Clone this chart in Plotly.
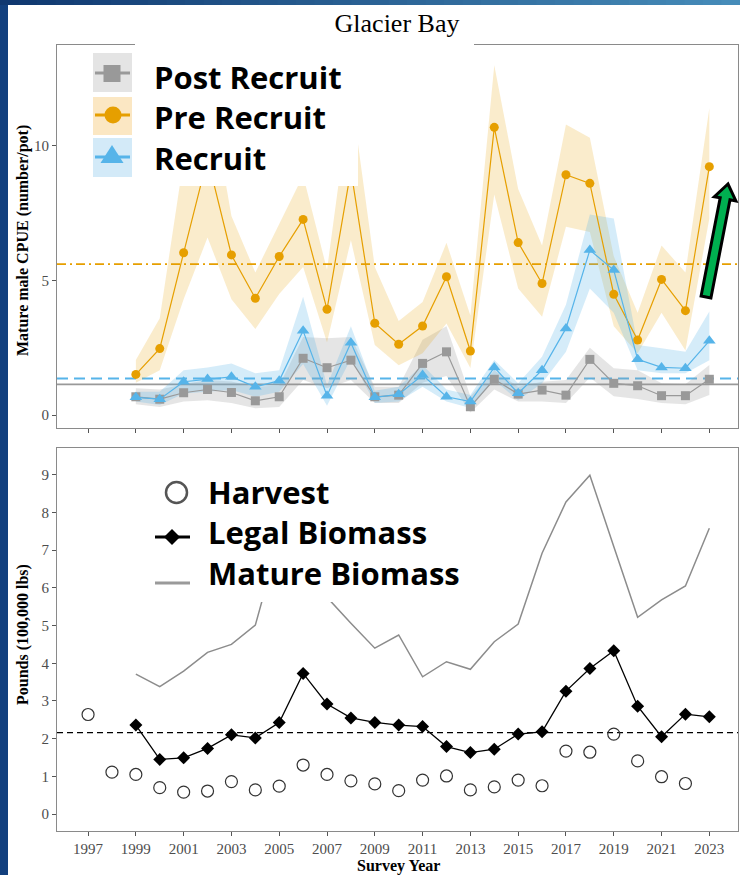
import plotly.graph_objects as go

# ---------------- data ----------------
years = list(range(1999, 2024))
harvest_years = list(range(1997, 2023))

post_recruit = [0.68, 0.59, 0.83, 0.95, 0.84, 0.53, 0.68, 2.11, 1.76, 2.04, 0.68, 0.74, 1.92,
                2.35, 0.31, 1.33, 0.78, 0.93, 0.74, 2.07, 1.18, 1.09, 0.72, 0.72, 1.33]
post_hi = [1.0, 0.95, 1.15, 1.3, 1.25, 1.05, 1.1, 2.9, 2.85, 2.9, 1.05, 1.05, 2.8,
           3.3, 0.7, 1.67, 1.05, 1.24, 1.3, 2.5, 1.74, 1.67, 1.18, 1.15, 1.86]
post_lo = [0.4, 0.3, 0.5, 0.55, 0.45, 0.25, 0.3, 1.3, 1.0, 1.3, 0.45, 0.45, 1.2,
           1.45, 0.1, 0.95, 0.5, 0.5, 0.45, 1.4, 0.7, 0.6, 0.45, 0.4, 0.75]

pre_recruit = [1.51, 2.47, 6.03, 9.55, 5.95, 4.34, 5.89, 7.27, 3.93, 9.1, 3.41, 2.63, 3.31,
               5.14, 2.38, 10.69, 6.41, 4.89, 8.93, 8.61, 4.49, 2.79, 5.04, 3.88, 9.23]
pre_hi = [2.05, 3.6, 9.5, 12.5, 7.4, 5.3, 7.1, 8.9, 5.4, 12.0, 5.5, 3.5, 4.2,
          6.4, 3.7, 13.0, 8.4, 6.3, 10.8, 10.3, 5.9, 3.8, 6.3, 5.3, 11.4]
pre_lo = [1.2, 1.67, 4.3, 6.6, 4.3, 3.2, 4.5, 5.5, 2.7, 6.5, 2.6, 1.85, 2.3,
          3.4, 1.75, 8.2, 4.7, 3.65, 7.0, 6.8, 3.3, 2.3, 3.8, 2.4, 7.3]

recruit = [0.66, 0.59, 1.24, 1.34, 1.42, 1.05, 1.28, 3.13, 0.72, 2.69, 0.66, 0.77, 1.49,
           0.68, 0.5, 1.77, 0.81, 1.67, 3.22, 6.13, 5.39, 2.07, 1.77, 1.74, 2.76]
rec_hi = [0.87, 0.87, 1.67, 1.77, 1.92, 1.55, 1.67, 4.4, 1.1, 3.3, 0.9, 1.05, 1.86,
          0.95, 0.75, 2.05, 1.18, 2.17, 4.1, 7.45, 7.3, 2.6, 2.48, 2.35, 3.85]
rec_lo = [0.5, 0.37, 0.8, 0.87, 0.93, 0.68, 0.87, 1.9, 0.35, 2.1, 0.45, 0.5, 1.05,
          0.5, 0.26, 1.3, 0.55, 1.18, 2.35, 4.7, 3.8, 1.67, 1.55, 1.55, 2.04]

pre_mean = 5.61
rec_mean = 1.36
post_mean = 1.14

harvest = [2.64, 1.11, 1.05, 0.70, 0.58, 0.61, 0.86, 0.64, 0.74, 1.30, 1.05, 0.88, 0.80,
           0.62, 0.90, 1.01, 0.64, 0.72, 0.90, 0.75, 1.67, 1.64, 2.12, 1.41, 0.99, 0.81]
legal_biomass = [2.36, 1.45, 1.49, 1.74, 2.10, 2.02, 2.43, 3.73, 2.92, 2.55, 2.43, 2.36, 2.32,
                 1.79, 1.63, 1.72, 2.12, 2.18, 3.26, 3.86, 4.33, 2.86, 2.05, 2.65, 2.58]
mature_biomass = [3.71, 3.38, 3.79, 4.29, 4.50, 5.01, 7.3, 7.9, 5.75, 5.06, 4.40, 4.75, 3.64,
                  4.04, 3.84, 4.57, 5.04, 6.92, 8.28, 8.99, 7.1, 5.22, 5.68, 6.05, 7.58]
legal_mean = 2.16

xtick_vals = list(range(1997, 2024, 2))
top_yticks = [0, 5, 10]
bottom_yticks = list(range(0, 10))

top_legend_labels = ["Post Recruit", "Pre Recruit", "Recruit"]
bottom_legend_labels = ["Harvest", "Legal Biomass", "Mature Biomass"]

# ---------------- styling ----------------
W, H = 740, 875
ML, MR, MT, MB = 57, 2, 45, 44
PW, PH = W - ML - MR, H - MT - MB


def px(x):
    return (x - ML) / PW


def py(y):
    return (H - MB - y) / PH


GRAY, ORANGE, BLUE = "#999999", "#E69F00", "#56B4E9"
SERIF = "Liberation Serif"
LEGFONT = dict(family="Open Sans", size=31, color="black", weight="bold")

fig = go.Figure()


def band(x, lo, hi, color, name):
    fig.add_trace(go.Scatter(x=x + x[::-1], y=hi + lo[::-1], fill="toself",
                             fillcolor=color, line=dict(width=0), mode="lines",
                             hoverinfo="skip", showlegend=False, name=name,
                             xaxis="x", yaxis="y"))


band(years, post_lo, post_hi, "rgba(153,153,153,0.25)", "Post Recruit band")
band(years, pre_lo, pre_hi, "rgba(230,159,0,0.2)", "Pre Recruit band")
band(years, rec_lo, rec_hi, "rgba(86,180,233,0.25)", "Recruit band")

fig.add_trace(go.Scatter(x=years, y=post_recruit, mode="lines+markers", name="Post Recruit",
                         line=dict(color=GRAY, width=1.2),
                         marker=dict(symbol="square", size=9, color=GRAY),
                         showlegend=False, xaxis="x", yaxis="y"))
fig.add_trace(go.Scatter(x=years, y=pre_recruit, mode="lines+markers", name="Pre Recruit",
                         line=dict(color=ORANGE, width=1.2),
                         marker=dict(symbol="circle", size=9, color=ORANGE),
                         showlegend=False, xaxis="x", yaxis="y"))
fig.add_trace(go.Scatter(x=years, y=recruit, mode="lines+markers", name="Recruit",
                         line=dict(color=BLUE, width=1.2),
                         marker=dict(symbol="triangle-up", size=11, color=BLUE),
                         showlegend=False, xaxis="x", yaxis="y"))

# bottom panel
fig.add_trace(go.Scatter(x=years, y=mature_biomass, mode="lines", name="Mature Biomass",
                         line=dict(color="#8c8c8c", width=1.5),
                         showlegend=False, xaxis="x2", yaxis="y2"))
fig.add_trace(go.Scatter(x=years, y=legal_biomass, mode="lines+markers", name="Legal Biomass",
                         line=dict(color="black", width=1.3),
                         marker=dict(symbol="diamond", size=10, color="black"),
                         showlegend=False, xaxis="x2", yaxis="y2"))
fig.add_trace(go.Scatter(x=harvest_years, y=harvest, mode="markers", name="Harvest",
                         marker=dict(symbol="circle-open", size=12, color="#333333",
                                     line=dict(width=1.2)),
                         showlegend=False, xaxis="x2", yaxis="y2"))

shapes = []
# reference lines
shapes.append(dict(type="line", xref="x domain", yref="y", x0=0, x1=1, y0=post_mean, y1=post_mean,
                   line=dict(color=GRAY, width=1.6), layer="below"))
shapes.append(dict(type="line", xref="x domain", yref="y", x0=0, x1=1, y0=rec_mean, y1=rec_mean,
                   line=dict(color=BLUE, width=2, dash="11px,6px"), layer="below"))
shapes.append(dict(type="line", xref="x domain", yref="y", x0=0, x1=1, y0=pre_mean, y1=pre_mean,
                   line=dict(color=ORANGE, width=1.8, dash="9px,4px,2px,4px"), layer="below"))
shapes.append(dict(type="line", xref="x2 domain", yref="y2", x0=0, x1=1, y0=legal_mean, y1=legal_mean,
                   line=dict(color="black", width=1.4, dash="6px,4px"), layer="below"))


def rect(x0, y0, x1, y1, color):
    shapes.append(dict(type="rect", xref="paper", yref="paper", x0=px(x0), x1=px(x1),
                       y0=py(y1), y1=py(y0), fillcolor=color, line=dict(width=0), layer="above"))


# slide background strips
rect(0, 0, 8, H, "#12407e")
N = 40
c0, c1 = (16, 56, 112), (70, 140, 185)
for i in range(N):
    t = i / (N - 1)
    c = tuple(int(c0[k] + (c1[k] - c0[k]) * t) for k in range(3))
    rect(W * i / N, 0, W * (i + 1) / N + 1, 5, "rgb(%d,%d,%d)" % c)

# white boxes (title, legends)
rect(135, 5, 474, 47, "white")
rect(88, 47, 358, 186, "white")
rect(140, 468, 470, 602, "white")

# top legend swatches
rect(93, 53, 132, 92, "#e4e4e4")
rect(93, 97, 132, 135, "#fbe7c3")
rect(93, 138, 132, 177, "#d3eaf8")


def seg(x0, x1, y, color, width):
    shapes.append(dict(type="line", xref="paper", yref="paper", x0=px(x0), x1=px(x1), y0=py(y), y1=py(y),
                       line=dict(color=color, width=width), layer="above"))


seg(95, 130, 73, GRAY, 3)
seg(95, 130, 115, ORANGE, 3)
seg(95, 130, 157, BLUE, 3)
rect(103.5, 65, 120.5, 82, GRAY)
shapes.append(dict(type="circle", xref="paper", yref="paper", x0=px(104.5), x1=px(121.5),
                   y0=py(123.5), y1=py(106.5), fillcolor=ORANGE, line=dict(width=0), layer="above"))


def path(points, fill, line):
    d = "M " + " L ".join("%.5f,%.5f" % (px(a), py(b)) for a, b in points) + " Z"
    shapes.append(dict(type="path", xref="paper", yref="paper", path=d, fillcolor=fill,
                       line=line, layer="above"))


path([(100.5, 163), (123.5, 163), (112, 145)], BLUE, dict(width=0))

# bottom legend glyphs
shapes.append(dict(type="circle", xref="paper", yref="paper", x0=px(166), x1=px(187),
                   y0=py(503), y1=py(482), fillcolor="rgba(0,0,0,0)",
                   line=dict(color="#555555", width=2.5), layer="above"))
seg(155, 190, 537, "black", 3)
path([(172, 529), (180, 537), (172, 545), (164, 537)], "black", dict(width=0))
seg(155, 190, 583, "#9a9a9a", 3)

# green arrow
path([(701.1, 296.0), (710.9, 298.0), (730.0, 199.8), (735.9, 200.9), (728.0, 184.0),
      (714.3, 196.7), (720.2, 197.8)], "#00b050", dict(color="black", width=3))

titlefont = dict(family=SERIF, size=16, color="black", weight="bold")

annotations = [
    dict(text="<br>".join(top_legend_labels), xref="paper", yref="paper",
         x=px(152), y=py(117), xanchor="left", yanchor="middle", align="left",
         showarrow=False, font=LEGFONT),
    dict(text="<br>".join(bottom_legend_labels), xref="paper", yref="paper",
         x=px(206), y=py(532), xanchor="left", yanchor="middle", align="left",
         showarrow=False, font=LEGFONT),
    dict(text="Mature male CPUE (number/pot)", xref="paper", yref="paper",
         x=px(23), y=py(241), xanchor="center", yanchor="middle", textangle=-90,
         showarrow=False, font=titlefont),
    dict(text="Pounds (100,000 lbs)", xref="paper", yref="paper",
         x=px(23), y=py(635), xanchor="center", yanchor="middle", textangle=-90,
         showarrow=False, font=titlefont),
    dict(text="Survey Year", xref="paper", yref="paper",
         x=px(398), y=py(866), xanchor="center", yanchor="middle",
         showarrow=False, font=titlefont),
]

tickfont = dict(family=SERIF, size=15, color="#4d4d4d")
axcommon = dict(showgrid=False, zeroline=False, showline=True, linecolor="#8a8a8a", linewidth=1,
                mirror=True, ticks="outside", ticklen=4, tickcolor="#555555", tickwidth=1,
                tickfont=tickfont)

fig.update_layout(
    width=W, height=H,
    margin=dict(l=ML, r=MR, t=MT, b=MB),
    paper_bgcolor="white", plot_bgcolor="white",
    showlegend=False,
    title=dict(text="Glacier Bay", x=px(397), xref="paper", xanchor="center",
               y=1 - 23 / H, yref="container", yanchor="middle",
               font=dict(family=SERIF, size=26, color="black")),
    xaxis=dict(domain=[0, 1], anchor="y", range=[1995.7, 2024.2], tickvals=xtick_vals,
               showticklabels=False, **axcommon),
    yaxis=dict(domain=[py(428), 1], anchor="x", range=[-0.48, 13.75], tickvals=top_yticks,
               **axcommon),
    xaxis2=dict(domain=[0, 1], anchor="y2", range=[1995.7, 2024.2], tickvals=xtick_vals,
                **axcommon),
    yaxis2=dict(domain=[0, py(448)], anchor="x2", range=[-0.45, 9.71], tickvals=bottom_yticks,
                **axcommon),
    shapes=shapes,
    annotations=annotations,
)

fig.write_html("out.html", config={"displayModeBar": False},
               post_script="document.body.style.margin='0px';document.body.style.padding='0px';")
